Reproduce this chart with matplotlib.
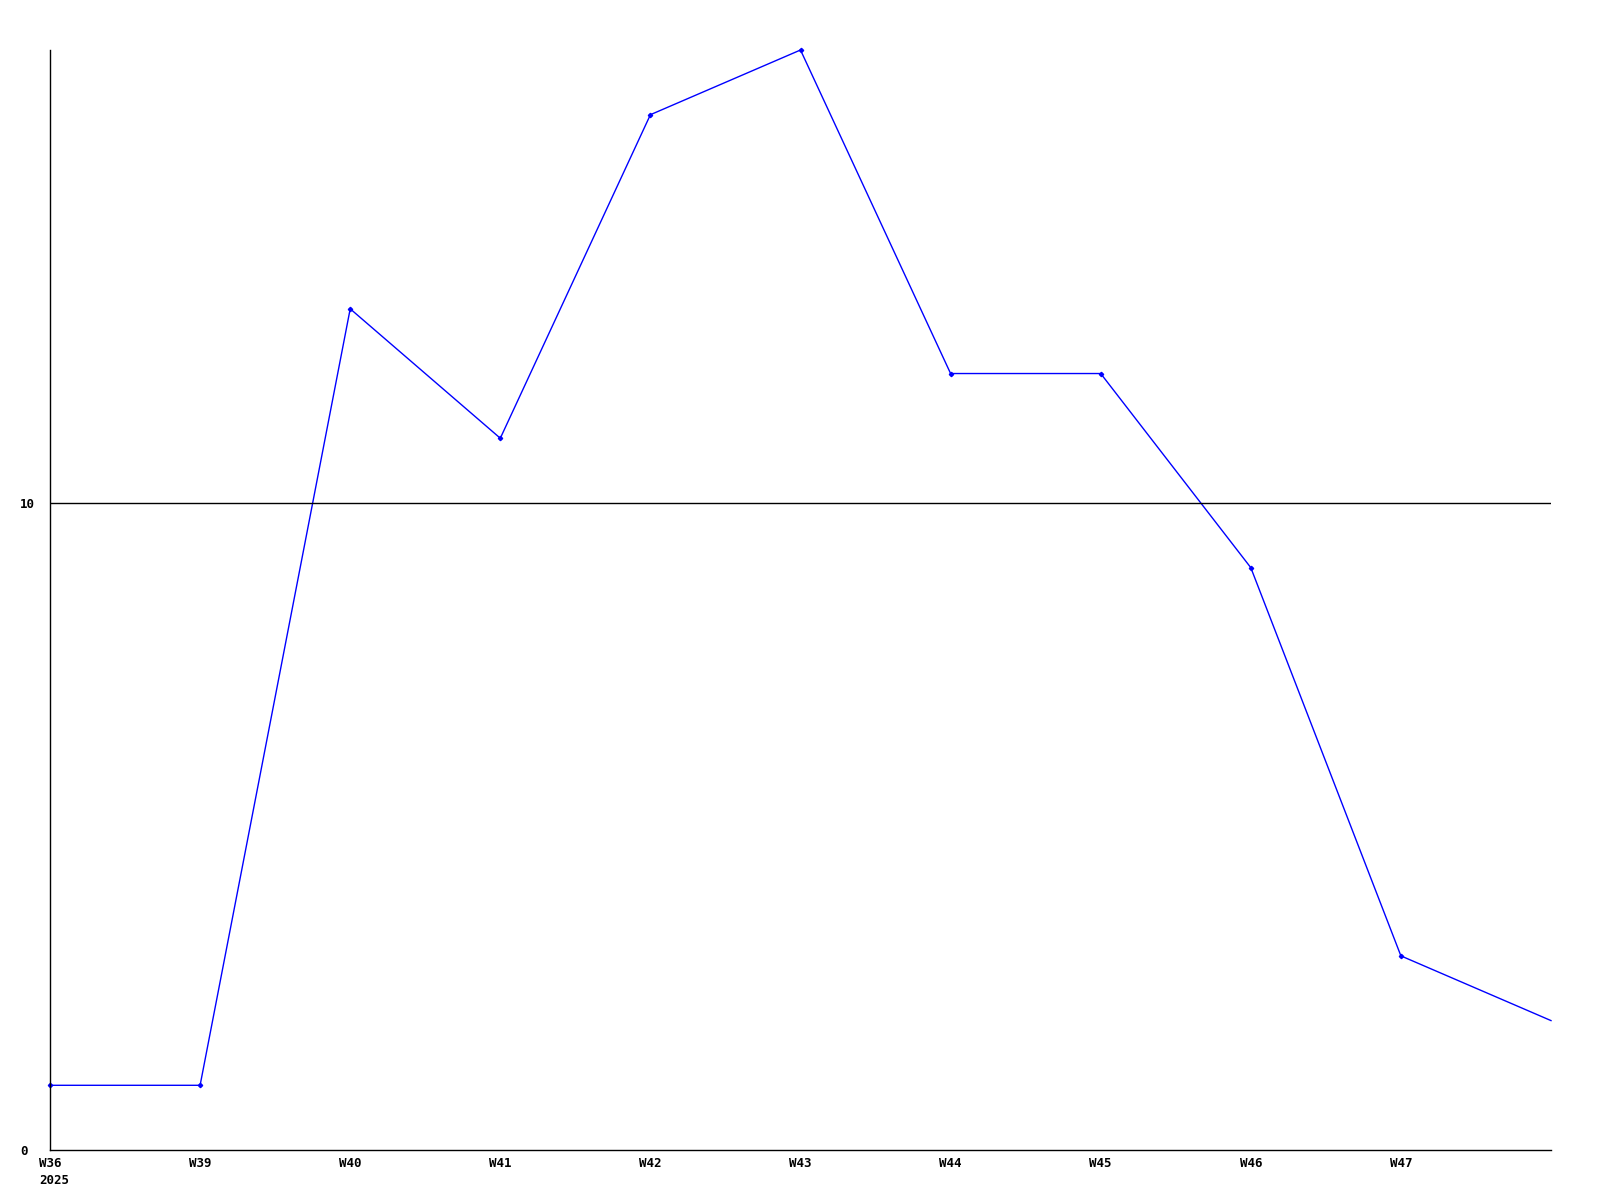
import numpy as np
import matplotlib.pyplot as plt

weeks = ['W36', 'W39', 'W40', 'W41', 'W42', 'W43', 'W44', 'W45', 'W46', 'W47']
year = '2025'
values = [1, 1, 13, 11, 16, 17, 12, 12, 9, 3, 2]

x = np.arange(len(values))

fig = plt.figure(figsize=(16, 12), dpi=100)
ax = fig.add_axes([50/1600, 50/1200, 1501/1600, 1100/1200])

ax.plot(x, values, color='#0000ff', linewidth=1.0, marker='D', markersize=2.2,
        markevery=list(range(len(values) - 1)), clip_on=False)

ax.axhline(10, color='black', linewidth=1.0)

ax.set_xlim(0, len(values) - 1)
ax.set_ylim(0, 17)

for s in ['top', 'right']:
    ax.spines[s].set_visible(False)
for s in ['left', 'bottom']:
    ax.spines[s].set_linewidth(1.0)
    ax.spines[s].set_color('black')

font = dict(family='DejaVu Sans Mono', weight='bold', size=9)

ax.set_xticks(np.arange(len(weeks)))
ax.set_xticklabels(weeks, ha='center', va='top', **font)

# year under the first week label
ax.annotate(year, xy=(0, 0), xycoords='data', xytext=(-7.5, -17),
            textcoords='offset points', ha='left', va='top', **font)

ax.set_yticks([0, 10])
ax.set_yticklabels(['0', '10'], ha='left', **font)
ax.tick_params(axis='both', length=0)
ax.tick_params(axis='x', pad=5)
ax.tick_params(axis='y', pad=21.5)

fig.savefig('out.png', dpi=100)
